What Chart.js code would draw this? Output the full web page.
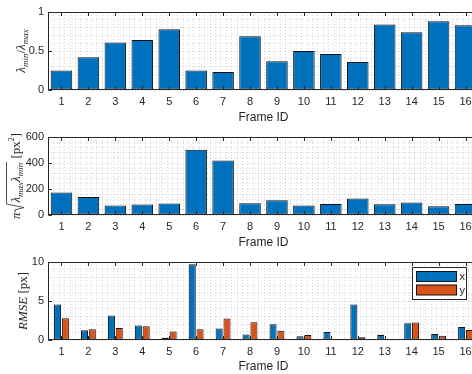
<!DOCTYPE html>
<html>
<head>
<meta charset="utf-8">
<script src="https://cdn.jsdelivr.net/npm/chart.js@4.4.1/dist/chart.umd.min.js"></script>
<style>
  html, body { margin: 0; padding: 0; background: #fff; overflow: hidden; }
  #fig { position: relative; width: 472px; height: 374px; overflow: hidden; }
  #fig canvas { position: absolute; left: 0; }
</style>
</head>
<body>
<div id="fig">
  <canvas id="c1" width="479" height="125" style="top:0"></canvas>
  <canvas id="c2" width="479" height="125" style="top:125px"></canvas>
  <canvas id="c3" width="479" height="124" style="top:250px"></canvas>
</div>
<script>
// frame ids on the shared x axis
var frameIds = [1, 2, 3, 4, 5, 6, 7, 8, 9, 10, 11, 12, 13, 14, 15, 16];

// eigenvalue ratio lambda_min / lambda_max per frame
var ratio = [0.25, 0.42, 0.61, 0.64, 0.78, 0.25, 0.23, 0.69, 0.37, 0.50, 0.46, 0.36, 0.84, 0.74, 0.88, 0.83];
var ratioTicks = [0, 0.5, 1];

// ellipse area pi*sqrt(lmax*lmin) in px^2
var area = [173, 139, 73, 80, 88, 502, 420, 90, 114, 73, 85, 127, 83, 96, 67, 85];
var areaTicks = [0, 200, 400, 600];

// reprojection RMSE per axis
var rmseX = [4.56, 1.25, 3.14, 1.85, 0.30, 9.70, 1.47, 0.69, 2.02, 0.47, 1.03, 4.56, 0.64, 2.15, 0.77, 1.67];
var rmseY = [2.79, 1.38, 1.55, 1.76, 1.08, 1.38, 2.75, 2.28, 1.20, 0.64, 0.13, 0.35, 0.05, 2.24, 0.56, 1.29];
var rmseTicks = [0, 5, 10];

var BLUE = '#0072BD';
var ORANGE = '#D95319';
var AXIS = '#262626';
var GRID = 'rgba(0,0,0,0.16)';
var SANS = '"Liberation Sans", Arial, sans-serif';
var SERIF = '"Liberation Serif", "Times New Roman", serif';
var TICK = 3.5;
var X_MINOR = 0.2;

function points(vals) {
  return frameIds.map(function(f, i) { return { x: f, y: vals[i] }; });
}

function isMajor(v, majors) {
  for (var i = 0; i < majors.length; i++) {
    if (Math.abs(v - majors[i]) < 1e-6) return true;
  }
  return false;
}

// dotted minor grid along x (y grid comes from the scale itself)
var minorGridPlugin = {
  id: 'minorGrid',
  beforeDatasetsDraw: function(chart) {
    var ca = chart.chartArea, ctx = chart.ctx, xs = chart.scales.x;
    ctx.save();
    ctx.strokeStyle = GRID;
    ctx.lineWidth = 1;
    ctx.setLineDash([1, 2]);
    ctx.beginPath();
    var n = Math.round((xs.max - xs.min) / X_MINOR);
    for (var k = 1; k < n; k++) {
      var px = Math.round(xs.getPixelForValue(xs.min + k * X_MINOR)) + 0.5;
      ctx.moveTo(px, ca.top);
      ctx.lineTo(px, ca.bottom);
    }
    ctx.stroke();
    ctx.restore();
  }
};

// box + inward tick marks, matlab style
var framePlugin = {
  id: 'frame',
  afterDatasetsDraw: function(chart) {
    var ca = chart.chartArea, ctx = chart.ctx;
    var xs = chart.scales.x, ys = chart.scales.y;
    var l = Math.round(ca.left) + 0.5, t = Math.round(ca.top) + 0.5;
    var r = Math.round(ca.right) - 0.5, b = Math.round(ca.bottom) - 0.5;
    ctx.save();
    ctx.strokeStyle = AXIS;
    ctx.lineWidth = 1;
    ctx.strokeRect(l, t, r - l, b - t);
    ctx.beginPath();
    xs.ticks.forEach(function(tk) {
      var px = Math.round(xs.getPixelForValue(tk.value)) + 0.5;
      ctx.moveTo(px, b); ctx.lineTo(px, b - TICK);
      ctx.moveTo(px, t); ctx.lineTo(px, t + TICK);
    });
    ys.ticks.forEach(function(tk) {
      if (tk.label === '') return;
      var py = Math.round(ys.getPixelForValue(tk.value)) + 0.5;
      ctx.moveTo(l, py); ctx.lineTo(l + TICK, py);
      ctx.moveTo(r, py); ctx.lineTo(r - TICK, py);
    });
    ctx.stroke();
    ctx.restore();
  }
};
Chart.register(minorGridPlugin, framePlugin);

function partsWidth(ctx, parts) {
  var w = 0;
  parts.forEach(function(p) { ctx.font = p.font; w += ctx.measureText(p.t).width; });
  return w;
}

function drawParts(ctx, parts, x) {
  parts.forEach(function(p) {
    ctx.font = p.font;
    ctx.fillText(p.t, x, p.dy || 0);
    x += ctx.measureText(p.t).width;
  });
  return x;
}

var MATH = 'italic 13px ' + SERIF;
var SUB = 'italic 9px ' + SERIF;
var ROMAN = '13px ' + SERIF;

// rotated y label; drawFn paints along +x with baseline at y=0
function yLabel(baseX, drawFn, widthFn) {
  return {
    id: 'ylabel',
    afterDraw: function(chart) {
      var ca = chart.chartArea, ctx = chart.ctx;
      ctx.save();
      ctx.translate(baseX, (ca.top + ca.bottom) / 2);
      ctx.rotate(-Math.PI / 2);
      ctx.fillStyle = AXIS;
      ctx.strokeStyle = AXIS;
      ctx.textBaseline = 'alphabetic';
      drawFn(ctx, -widthFn(ctx) / 2);
      ctx.restore();
    }
  };
}

var ratioParts = [
  { t: '\u03bb', font: MATH }, { t: 'min', font: SUB, dy: 3 },
  { t: '/', font: ROMAN },
  { t: '\u03bb', font: MATH }, { t: 'max', font: SUB, dy: 3 }
];
var ratioLabel = yLabel(25, function(ctx, x) { drawParts(ctx, ratioParts, x); },
  function(ctx) { return partsWidth(ctx, ratioParts); });

var rootParts = [
  { t: '\u03bb', font: MATH }, { t: 'max', font: SUB, dy: 3 },
  { t: '\u03bb', font: MATH }, { t: 'min', font: SUB, dy: 3 }
];
var unitParts = [
  { t: ' [px', font: ROMAN }, { t: '2', font: '8px ' + SERIF, dy: -6 }, { t: ']', font: ROMAN }
];
var areaLabel = yLabel(20, function(ctx, x) {
  x = drawParts(ctx, [{ t: '\u03c0', font: MATH }], x);
  var rw = partsWidth(ctx, rootParts);
  ctx.lineWidth = 0.8;
  ctx.beginPath();
  ctx.moveTo(x + 0.5, -4);
  ctx.lineTo(x + 2.5, -5.5);
  ctx.lineTo(x + 5, 4);
  ctx.lineTo(x + 8.5, -13.5);
  ctx.lineTo(x + 10 + rw + 1, -13.5);
  ctx.stroke();
  x = drawParts(ctx, rootParts, x + 10);
  drawParts(ctx, unitParts, x + 1);
}, function(ctx) {
  return partsWidth(ctx, [{ t: '\u03c0', font: MATH }]) + 11 + partsWidth(ctx, rootParts) + partsWidth(ctx, unitParts);
});

var rmseParts = [{ t: 'RMSE', font: MATH }, { t: ' [px]', font: ROMAN }];
var rmseLabel = yLabel(27, function(ctx, x) { drawParts(ctx, rmseParts, x); },
  function(ctx) { return partsWidth(ctx, rmseParts); });

// legend box in the upper right of the rmse axes
var rmseLegend = {
  id: 'rmseLegend',
  afterDraw: function(chart) {
    var ca = chart.chartArea, ctx = chart.ctx;
    var left = 412.5, top = ca.top + 5.5, w = 54, h = 32;
    ctx.save();
    ctx.fillStyle = '#fff';
    ctx.fillRect(left, top, w, h);
    ctx.strokeStyle = AXIS;
    ctx.lineWidth = 1;
    ctx.strokeRect(left, top, w, h);
    ctx.font = '11px ' + SANS;
    ctx.textBaseline = 'middle';
    chart.data.datasets.forEach(function(ds, i) {
      var y = top + 4 + i * 13.5;
      ctx.fillStyle = ds.backgroundColor;
      ctx.fillRect(left + 4, y, 40, 10);
      ctx.strokeStyle = '#111';
      ctx.strokeRect(left + 4, y, 40, 10);
      ctx.fillStyle = AXIS;
      ctx.fillText(ds.label, left + 47, y + 5.5);
    });
    ctx.restore();
  }
};

function makeAxes(id, datasets, yMax, yStep, yMajors, extraPlugins, barOpts) {
  return new Chart(document.getElementById(id), {
    type: 'bar',
    data: { datasets: datasets },
    plugins: extraPlugins,
    options: {
      responsive: false,
      animation: false,
      layout: { padding: { top: 12, right: 0, left: 0, bottom: 0 } },
      datasets: { bar: barOpts },
      plugins: { legend: { display: false }, tooltip: { enabled: false } },
      scales: {
        x: {
          type: 'linear',
          offset: false,
          min: 0.5,
          max: 16.5,
          // one labelled tick per frame
          afterBuildTicks: function(s) {
            s.ticks = frameIds.map(function(f) { return { value: f }; });
          },
          afterFit: function(s) { s.height = s.chart.height - 90; },
          ticks: {
            autoSkip: false,
            maxRotation: 0,
            padding: 5,
            color: AXIS,
            font: { family: SANS, size: 11 },
            callback: function(v) { return String(v); }
          },
          grid: { display: false, drawTicks: false, offset: false },
          border: { display: false },
          title: {
            display: true,
            text: 'Frame ID',
            color: AXIS,
            font: { family: SANS, size: 12, lineHeight: 1.2 },
            padding: { top: 0, bottom: 0 }
          }
        },
        y: {
          min: 0,
          max: yMax,
          afterFit: function(s) { s.width = 48; },
          ticks: {
            stepSize: yStep,
            autoSkip: false,
            padding: 4,
            color: AXIS,
            font: { family: SANS, size: 11 },
            callback: function(v) { return isMajor(v, yMajors) ? String(v) : ''; }
          },
          grid: { drawTicks: false, color: GRID, lineWidth: 1 },
          border: { display: false, dash: [1, 2] }
        }
      }
    }
  });
}

makeAxes('c1', [{
  label: 'ratio',
  data: points(ratio),
  backgroundColor: BLUE,
  borderColor: '#111',
  borderWidth: 1,
  borderSkipped: false
}], 1, 0.1, ratioTicks, [ratioLabel], { categoryPercentage: 0.8, barPercentage: 1.0 });

makeAxes('c2', [{
  label: 'area',
  data: points(area),
  backgroundColor: BLUE,
  borderColor: '#111',
  borderWidth: 1,
  borderSkipped: false
}], 600, 40, areaTicks, [areaLabel], { categoryPercentage: 0.8, barPercentage: 1.0 });

makeAxes('c3', [{
  label: 'x',
  data: points(rmseX),
  backgroundColor: BLUE,
  borderColor: '#111',
  borderWidth: 1,
  borderSkipped: false
}, {
  label: 'y',
  data: points(rmseY),
  backgroundColor: ORANGE,
  borderColor: '#111',
  borderWidth: 1,
  borderSkipped: false
}], 10, 1, rmseTicks, [rmseLabel, rmseLegend], { categoryPercentage: 0.58, barPercentage: 0.9 });
</script>
</body>
</html>
